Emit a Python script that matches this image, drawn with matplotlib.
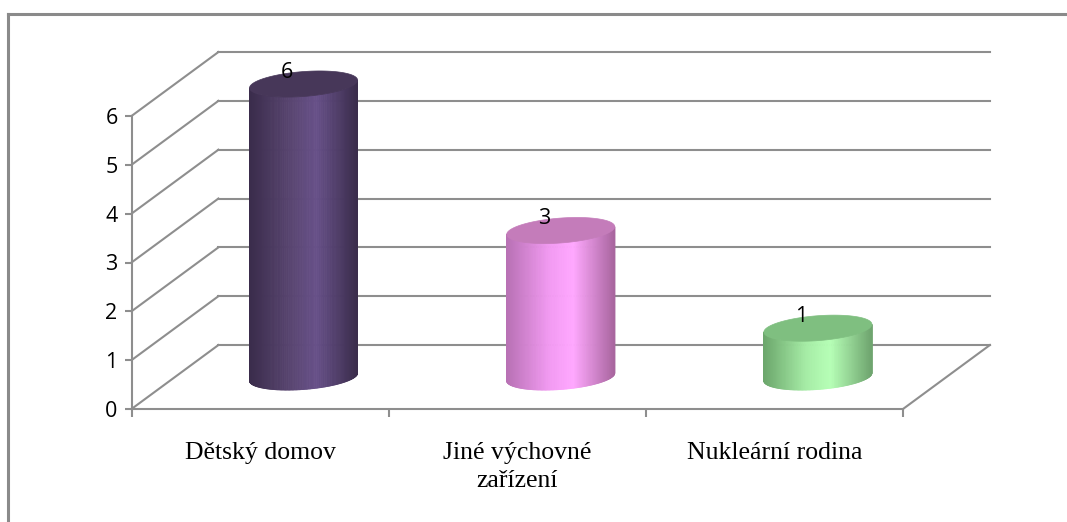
import numpy as np
import matplotlib
matplotlib.use('Agg')
import matplotlib.pyplot as plt
from matplotlib.patches import Polygon
from matplotlib.lines import Line2D
from matplotlib.collections import PolyCollection
from matplotlib.colors import LinearSegmentedColormap

# data
categories = ['Dětský domov', 'Jiné výchovné\nzařízení', 'Nukleární rodina']
values = [6, 3, 1]
y_ticks = [0, 1, 2, 3, 4, 5, 6]

# cylinder shading: left edge, mid, highlight, right edge + top face
side_colors = [
    ['#3a2c4b', '#5a4672', '#675089', '#3b2d4c'],
    ['#b871b4', '#f29af2', '#ffa8ff', '#a9669f'],
    ['#6ca66c', '#a6eda6', '#b6ffb6', '#6fa56f'],
]
top_colors = ['#473759', '#c47cba', '#7fbf80']

grid_c = '#8e8e8e'

# depth of the 3d box in data units
DX, DY = 0.338, 1.31
RX, RY, TILT = 0.21, 0.255, 0.08

fig = plt.figure(figsize=(10.67, 5.22), dpi=100)
ax = fig.add_axes([131.5 / 1067, 113 / 522, 771.5 / 1067, 293 / 522])
ax.set_xlim(0, 3)
ax.set_ylim(0, 6)

# frame around chart area (only top and left visible)
fig.add_artist(Line2D([8 / 1067, 1.01], [1 - 14 / 522] * 2, color='#8a8a8a', lw=2.2))
fig.add_artist(Line2D([8 / 1067] * 2, [-0.01, 1 - 14 / 522], color='#8a8a8a', lw=2.2))

# walls
n = len(categories)
for v in y_ticks:
    ax.plot([DX, n + DX], [v + DY, v + DY], color=grid_c, lw=1.5, clip_on=False, zorder=1)
    ax.plot([0, DX], [v, v + DY], color=grid_c, lw=1.5, clip_on=False, zorder=1)
ax.plot([n, n + DX], [0, DY], color=grid_c, lw=1.5, clip_on=False, zorder=1)

# cylinders
t = np.linspace(0, 2 * np.pi, 200)
t_front = np.linspace(np.pi, 2 * np.pi, 121)
for i, v in enumerate(values):
    cx = i + 0.5 + DX / 2
    y0 = DY / 2
    y1 = v + DY / 2
    bx = cx + RX * np.cos(t_front)
    off = RY * np.sin(t_front) + TILT * np.cos(t_front)
    cmap = LinearSegmentedColormap.from_list('c%d' % i, list(zip([0, 0.4, 0.62, 1], side_colors[i])))
    strips = []
    cols = []
    for j in range(len(t_front) - 1):
        strips.append([(bx[j], y0 + off[j]), (bx[j + 1], y0 + off[j + 1]),
                       (bx[j + 1], y1 + off[j + 1]), (bx[j], y1 + off[j])])
        cols.append(cmap(((bx[j] + bx[j + 1]) / 2 - (cx - RX)) / (2 * RX)))
    pc = PolyCollection(strips, facecolors=cols, edgecolors=cols, linewidths=0.6,
                        zorder=3, clip_on=False)
    ax.add_collection(pc)
    tx = cx + RX * np.cos(t)
    ty = y1 + RY * np.sin(t) + TILT * np.cos(t)
    ax.add_patch(Polygon(np.column_stack([tx, ty]), closed=True, facecolor=top_colors[i],
                         edgecolor=top_colors[i], lw=0.5, zorder=4, clip_on=False))
    ax.annotate(str(v), (cx - 0.065, y1), xytext=(0, 1), textcoords='offset points',
                ha='center', va='bottom', fontsize=15.5, family='Open Sans', zorder=5,
                annotation_clip=False)

ax.set_xlim(0, 3)
ax.set_ylim(0, 6)

for s in ['top', 'right']:
    ax.spines[s].set_visible(False)
for s in ['left', 'bottom']:
    ax.spines[s].set_color(grid_c)
    ax.spines[s].set_linewidth(1.5)
    ax.spines[s].set_zorder(2)

ax.set_yticks(y_ticks)
ax.set_yticklabels([str(v) for v in y_ticks], family='Open Sans', fontsize=15.5)
ax.tick_params(axis='y', direction='out', length=5, width=1.5, color=grid_c, pad=5)

ax.set_xticks(range(n + 1))
ax.set_xticklabels([])
ax.set_xticks([i + 0.5 for i in range(n)], minor=True)
ax.set_xticklabels(categories, minor=True, family='Liberation Serif', fontsize=18.5,
                   linespacing=1.35)
ax.tick_params(axis='x', which='major', direction='out', length=6, width=1.5, color=grid_c)
ax.tick_params(axis='x', which='minor', length=0, pad=24)

fig.savefig('out.png', dpi=100)
